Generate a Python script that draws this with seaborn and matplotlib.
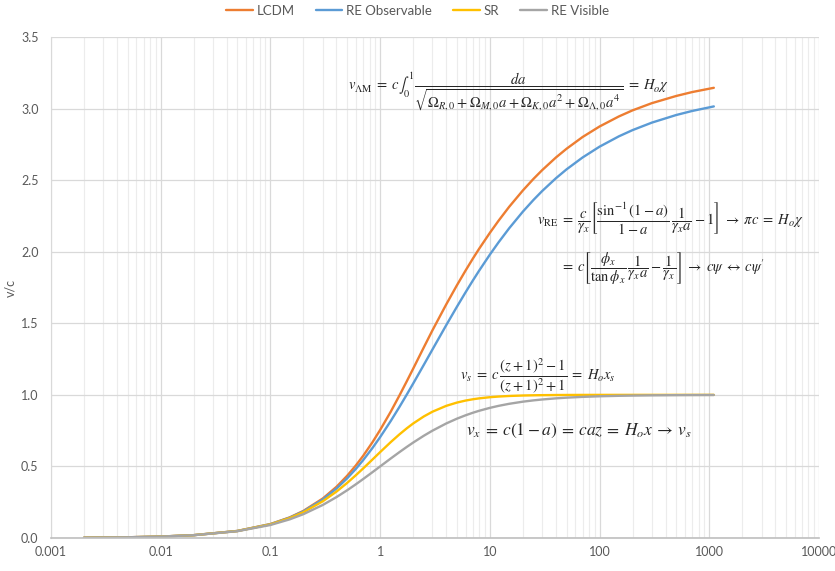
import matplotlib
matplotlib.use("Agg")
import matplotlib.pyplot as plt
import seaborn as sns
import pandas as pd
from matplotlib.lines import Line2D

# ---- data ----
z_values = [0.002, 0.005, 0.01, 0.02, 0.05, 0.1, 0.15, 0.2, 0.3, 0.4, 0.5, 0.6, 0.7, 0.85,
            1, 1.25, 1.5, 1.75, 2, 2.5, 3, 4, 5, 6, 7, 8, 10, 12, 15, 20, 25, 30, 40, 50,
            70, 100, 150, 200, 300, 500, 700, 1100]
lcdm = [0.0020, 0.0050, 0.00998, 0.0199, 0.0492, 0.0974, 0.1442, 0.1896, 0.2760, 0.3576,
        0.4345, 0.5064, 0.5739, 0.6682, 0.7548, 0.8828, 0.9960, 1.0953, 1.1830, 1.3316,
        1.4514, 1.6314, 1.7645, 1.8679, 1.9520, 2.0216, 2.1317, 2.2164, 2.3138, 2.4281,
        2.5091, 2.5702, 2.6582, 2.7193, 2.8013, 2.8749, 2.9451, 2.9877, 3.0380, 3.0881,
        3.1155, 3.1451]
re_observable = [0.0020, 0.00499, 0.00997, 0.01986, 0.04915, 0.0965, 0.1422, 0.1861, 0.2690,
                 0.3456, 0.4165, 0.4824, 0.5439, 0.6282, 0.7048, 0.8178, 0.9160, 1.0023,
                 1.0790, 1.2096, 1.3174, 1.4864, 1.6145, 1.7159, 1.7990, 1.8686, 1.9797,
                 2.0654, 2.1638, 2.2801, 2.3621, 2.4242, 2.5132, 2.5753, 2.6583, 2.7339,
                 2.8061, 2.8497, 2.9020, 2.9551, 2.9835, 3.0151]
sr = [0.0020, 0.00499, 0.00995, 0.0198, 0.04875, 0.0950, 0.1389, 0.1803, 0.2565, 0.3243,
      0.3846, 0.4382, 0.4859, 0.5478, 0.6000, 0.6701, 0.7241, 0.7664, 0.8000, 0.8491,
      0.8824, 0.9231, 0.9459, 0.9600, 0.9692, 0.9756, 0.9836, 0.9882, 0.9922, 0.9955,
      0.9970, 0.9979, 0.9988, 0.9992, 0.9996, 0.9998, 0.9999, 0.99995, 0.99998, 0.99999,
      1.0, 1.0]
re_visible = [0.0020, 0.00498, 0.00990, 0.01961, 0.04762, 0.0909, 0.1304, 0.1667, 0.2308,
              0.2857, 0.3333, 0.3750, 0.4118, 0.4595, 0.5000, 0.5556, 0.6000, 0.6364,
              0.6667, 0.7143, 0.7500, 0.8000, 0.8333, 0.8571, 0.8750, 0.8889, 0.9091,
              0.9231, 0.9375, 0.9524, 0.9615, 0.9677, 0.9756, 0.9804, 0.9859, 0.9901,
              0.9934, 0.9950, 0.9967, 0.9980, 0.9986, 0.9991]
series_names = ["LCDM", "RE Observable", "SR", "RE Visible"]
series_colors = ["#ED7D31", "#5B9BD5", "#FFC000", "#A5A5A5"]
x_tick_values = [0.001, 0.01, 0.1, 1, 10, 100, 1000, 10000]
x_tick_labels = ["0.001", "0.01", "0.1", "1", "10", "100", "1000", "10000"]
y_tick_values = [0.0, 0.5, 1.0, 1.5, 2.0, 2.5, 3.0, 3.5]
y_label = "v/c"

# ---- build long-form table ----
frames = []
for name, vals in zip(series_names, [lcdm, re_observable, sr, re_visible]):
    frames.append(pd.DataFrame({"z": z_values, "v": vals, "series": name}))
df = pd.concat(frames, ignore_index=True)

sns.set_style("white")
plt.rcParams["font.family"] = ["Lato", "DejaVu Sans"]
plt.rcParams["mathtext.fontset"] = "stix"

fig = plt.figure(figsize=(8.35, 5.71), dpi=100)
ax = fig.add_axes([51 / 835, 1 - 538 / 571, 768 / 835, 501 / 571])

palette = dict(zip(series_names, series_colors))
sns.lineplot(data=df, x="z", y="v", hue="series", hue_order=series_names,
             palette=palette, linewidth=1.7, legend=False, ax=ax, sort=True,
             estimator=None)

ax.set_xscale("log")
ax.set_xlim(0.001, 10000)
ax.set_ylim(0, 3.5)
ax.set_xticks(x_tick_values)
ax.set_xticklabels(x_tick_labels)
ax.set_yticks(y_tick_values)
ax.set_yticklabels([f"{v:.1f}" for v in y_tick_values])
ax.tick_params(which="both", length=0, labelsize=9, labelcolor="#595959")
ax.tick_params(axis="x", pad=6)
ax.tick_params(axis="y", pad=9)
ax.set_xlabel("")
ax.set_ylabel(y_label, color="#595959", fontsize=9, labelpad=3)

ax.grid(which="major", axis="both", color="#d9d9d9", linewidth=0.9)
ax.grid(which="minor", axis="x", color="#ececec", linewidth=0.8)
ax.set_axisbelow(True)
for s in ["top", "right"]:
    ax.spines[s].set_visible(False)
ax.spines["left"].set_color("#d9d9d9")
ax.spines["bottom"].set_color("#bfbfbf")
ax.spines["bottom"].set_linewidth(1.2)

# ---- legend ----
handles = [Line2D([0], [0], color=c, lw=1.7) for c in series_colors]
fig.legend(handles, series_names, loc="center", bbox_to_anchor=(0.5, 1 - 11 / 571),
           ncol=4, frameon=False, fontsize=9.5, handlelength=2.0, handletextpad=0.3,
           columnspacing=1.6, labelcolor="#595959")

# ---- equations ----
eq_kw = dict(transform=ax.transAxes, ha="left", va="center", color="#262626")
ax.text(0.387, 0.89,
        r"$v_{\Lambda\mathrm{M}} \;=\; c\int_0^1 \dfrac{da}{\sqrt{\Omega_{R,0}\:+\:\Omega_{M,0}a\:+\:\Omega_{K,0}a^2\:+\:\Omega_{\Lambda,0}a^4}} \;=\; H_o\chi$",
        fontsize=10.5, **eq_kw)
ax.text(0.633, 0.638,
        r"$v_{\mathrm{RE}} \;=\; \dfrac{c}{\gamma_x}\left[\dfrac{\sin^{-1}(1\:-\:a)}{1\:-\:a}\,\dfrac{1}{\gamma_x a}\:-\:1\right]\;\rightarrow\; \pi c \;=\; H_o\chi$",
        fontsize=10.5, **eq_kw)
ax.text(0.663, 0.538,
        r"$=\; c\left[\dfrac{\phi_x}{\tan\phi_x}\,\dfrac{1}{\gamma_x a}\:-\:\dfrac{1}{\gamma_x}\right]\;\rightarrow\; c\psi \;\leftrightarrow\; c\psi'$",
        fontsize=10.5, **eq_kw)
ax.text(0.533, 0.323,
        r"$v_s \;=\; c\,\dfrac{(z\:+\:1)^2\:-\:1}{(z\:+\:1)^2\:+\:1} \;=\; H_o x_s$",
        fontsize=10.5, **eq_kw)
ax.text(0.540, 0.213,
        r"$v_x \:=\: c(1-a) \:=\: caz \:=\: H_o x \:\rightarrow\: v_s$",
        fontsize=12.5, **eq_kw)

fig.savefig("out.png", dpi=100)
